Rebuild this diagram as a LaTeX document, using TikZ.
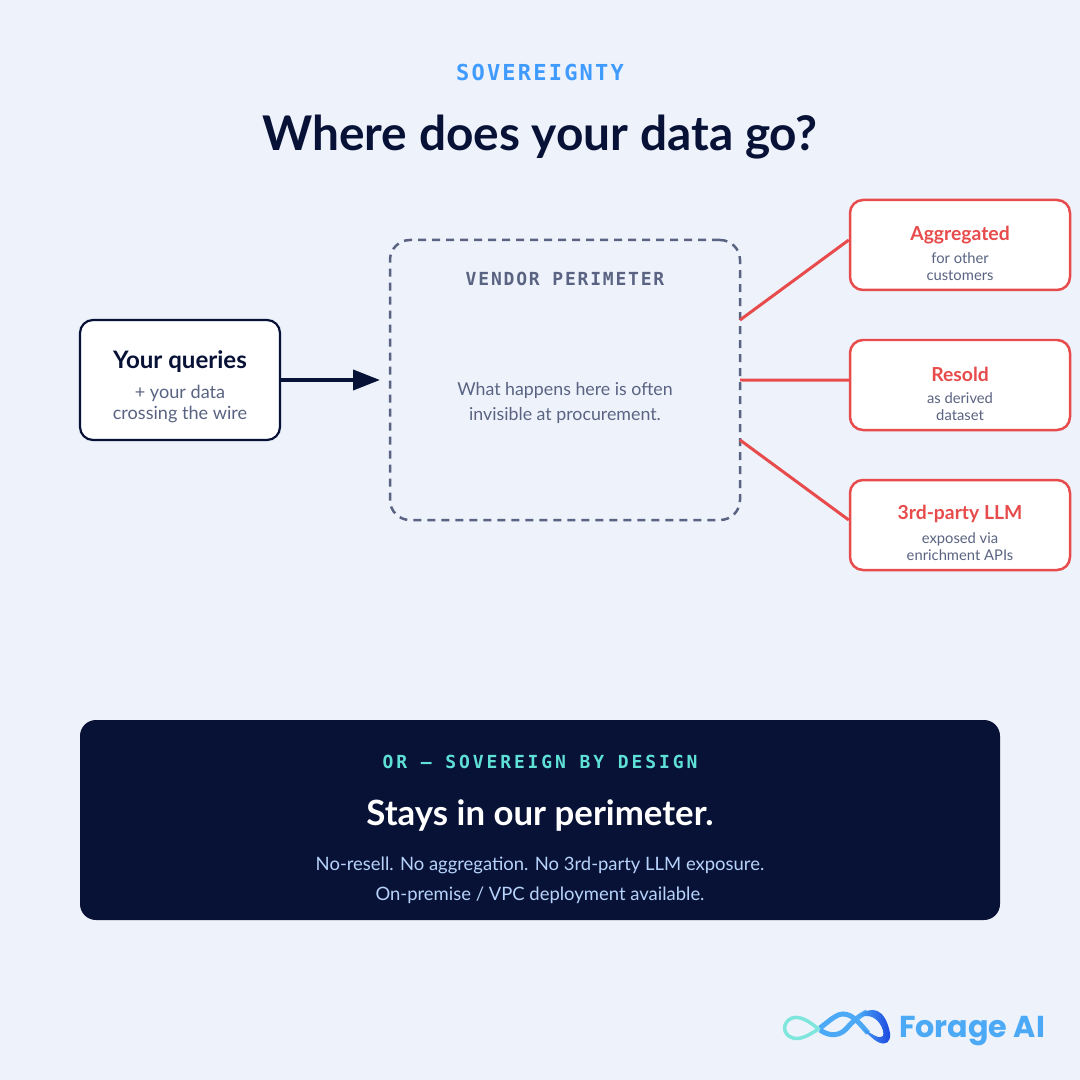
\documentclass[tikz,border=0pt]{standalone}
\usepackage{fontspec}
\setmainfont{Lato}
\newfontfamily\labelfont[LetterSpace=10]{DejaVu Sans Mono}
\newfontfamily\bannerfont[LetterSpace=16]{DejaVu Sans Mono}
\newfontfamily\logofont{Poppins}
\usetikzlibrary{arrows.meta}
\definecolor{pagebg}{HTML}{EDF2FB}
\definecolor{navy}{HTML}{081236}
\definecolor{slate}{HTML}{5A6482}
\definecolor{alert}{HTML}{E84B4B}
\definecolor{skyblue}{HTML}{3F9BFF}
\definecolor{mint}{HTML}{5FE0D6}
\definecolor{paleblue}{HTML}{B7D3FB}
\definecolor{logoblue}{HTML}{4BA9F5}
\definecolor{logodeep}{HTML}{1B45E0}
\tikzset{
  whitebox/.style={draw, fill=white, rounded corners=.13cm, line width=.022cm},
  leakbox/.style={whitebox, draw=alert, line width=.025cm, minimum width=2.2cm, minimum height=.9cm},
  leakline/.style={draw=alert, line width=.03cm},
  leakhead/.style={text=alert, font=\fontsize{5.5}{6.5}\selectfont\bfseries},
  leaksub/.style={text=slate, align=center, font=\fontsize{4.2}{4.85}\selectfont},
  body/.style={align=center, font=\fontsize{5.06}{7.1}\selectfont}
}
\begin{document}
\begin{tikzpicture}[y=-1cm]
\useasboundingbox (0,0) rectangle (10.8,10.8);
\fill [pagebg] (0,0) rectangle (10.8,10.8);

% heading
\node (kicker) at (5.4,.72) [text=skyblue] {\fontsize{6.26}{7}\labelfont\bfseries SOVEREIGNTY};
\node (title) at (5.4,1.37) [text=navy] {\fontsize{13.6}{16}\selectfont\bfseries Where does your data go?};

% left box
\node (queries) at (1.8,3.8) [whitebox, draw=navy, minimum width=2cm, minimum height=1.2cm] {};
\node (querieshead) at (1.8,3.62) [text=navy, font=\fontsize{6.85}{7}\selectfont\bfseries] {Your queries};
\node (queriessub) at (1.8,4.04) [text=slate, body, font=\fontsize{5.15}{6.2}\selectfont] {+ your data\\crossing the wire};

% perimeter
\node (perimeter) at (5.65,3.8) [draw=slate, line width=.025cm, dash pattern=on .08cm off .06cm,
  rounded corners=.2cm, minimum width=3.5cm, minimum height=2.8cm] {};
\node (perimeterlabel) at (5.65,2.79) [text=slate] {\fontsize{5.12}{6}\labelfont\bfseries VENDOR PERIMETER};
\node (perimetertext) at (5.65,4.03) [text=slate, body] {What happens here is often\\invisible at procurement.};

\coordinate (arrowend) at (3.8,3.8);
\draw [navy, line width=.04cm, -{Triangle[length=.27cm,width=.2cm]}] (queries) -- (arrowend);

% right boxes
\node (aggregated) at (9.6,2.45) [leakbox] {};
\node (resold) at (9.6,3.85) [leakbox] {};
\node (thirdparty) at (9.6,5.25) [leakbox] {};

\node (aggregatedhead) at (9.6,2.35) [leakhead] {Aggregated};
\node (aggregatedsub) at (9.6,2.665) [leaksub] {for other\\customers};
\node (resoldhead) at (9.6,3.74) [leakhead] {Resold};
\node (resoldsub) at (9.6,4.065) [leaksub] {as derived\\dataset};
\node (thirdpartyhead) at (9.6,5.14) [leakhead] {3rd-party LLM};
\node (thirdpartysub) at (9.6,5.465) [leaksub] {exposed via\\enrichment APIs};

\coordinate (leakone) at (7.4,3.2);
\coordinate (leaktwo) at (7.4,3.8);
\coordinate (leakthree) at (7.4,4.4);
\draw [leakline] (leakone) -- ([yshift=.05cm]aggregated.west);
\draw [leakline] (leaktwo) -- ([yshift=.05cm]resold.west);
\draw [leakline] (leakthree) -- ([yshift=.05cm]thirdparty.west);

% bottom banner
\node (banner) at (5.4,8.2) [fill=navy, rounded corners=.16cm, minimum width=9.2cm, minimum height=2cm] {};
\node (bannerlabel) at (5.4,7.62) [text=mint] {\fontsize{5.12}{6}\bannerfont\bfseries OR — SOVEREIGN BY DESIGN};
\node (bannerhead) at (5.4,8.16) [text=white, font=\fontsize{9.9}{11}\selectfont\bfseries] {Stays in our perimeter.};
\node (bannertext) at (5.4,8.805) [text=paleblue, align=center, font=\fontsize{5.25}{8.5}\selectfont] {No-resell. No aggregation. No 3rd-party LLM exposure.\\On-premise / VPC deployment available.};

% logo
\draw [mint!80!white, line width=.035cm] (8.2,10.28) .. controls (8.08,10.36) and (8,10.4) .. (7.93,10.38)
  .. controls (7.82,10.35) and (7.82,10.22) .. (7.92,10.18) .. controls (8.02,10.15) and (8.12,10.24) .. (8.2,10.3);
\draw [logoblue, line width=.05cm] (8.2,10.3) .. controls (8.3,10.37) and (8.4,10.36) .. (8.47,10.28)
  .. controls (8.52,10.22) and (8.6,10.15) .. (8.67,10.12);
\draw [logoblue, line width=.05cm] (8.2,10.28) .. controls (8.28,10.22) and (8.36,10.14) .. (8.43,10.14)
  .. controls (8.53,10.14) and (8.6,10.24) .. (8.68,10.33);
\shade [left color=logoblue, right color=logodeep] (8.58,10.16) .. controls (8.72,10.05) and (8.85,10.08) .. (8.9,10.33)
  .. controls (8.91,10.42) and (8.86,10.46) .. (8.78,10.42) .. controls (8.72,10.39) and (8.66,10.32) .. (8.62,10.28)
  .. controls (8.72,10.34) and (8.8,10.4) .. (8.83,10.36) .. controls (8.85,10.3) and (8.78,10.16) .. (8.67,10.16) -- cycle;
\node (logotext) at (9.72,10.31) [text=logoblue, font=\fontsize{8.6}{10}\logofont\bfseries] {Forage AI};
\end{tikzpicture}
\end{document}
